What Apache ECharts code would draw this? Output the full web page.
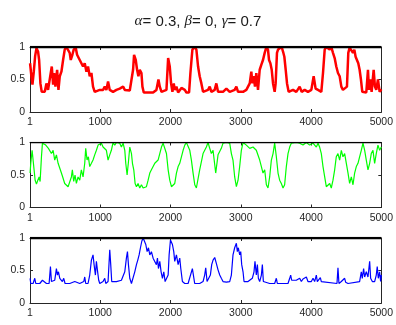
<!DOCTYPE html>
<html><head><meta charset="utf-8">
<script src="https://cdn.jsdelivr.net/npm/echarts@6/dist/echarts.min.js"></script>
<style>html,body{margin:0;padding:0;background:#fff}#c{width:396px;height:325px}</style>
</head><body><div id="c"></div>
<script>
const xTickLabels = ['1','1000','2000','3000','4000','5000'];
const yTickLabels = ['0','0.5','1'];
const titleText = '{g|α}= 0.3, {g|β}= 0, {g|γ}= 0.7';

const redT = [1,20,35,54,73,92,115,130,148,167,210,234,257,281,310,329,343,362,386,405,424,447,471,494,518,542,565,580,603,622,651,670,689,708,731,755,779,803,826,850,874,897,921,945,993,1016,1040,1064,1087,1111,1135,1182,1230,1277,1325,1349,1372,1420,1444,1467,1481,1505,1524,1543,1562,1586,1600,1619,1657,1752,1799,1828,1847,1871,1894,1942,1966,1989,2008,2027,2046,2060,2084,2108,2155,2179,2203,2226,2264,2283,2311,2344,2368,2392,2415,2439,2463,2486,2534,2558,2581,2629,2652,2676,2747,2795,2842,2913,2937,2961,3032,3079,3127,3150,3165,3183,3202,3221,3245,3269,3293,3316,3340,3364,3387,3402,3421,3440,3459,3482,3496,3515,3530,3553,3582,3601,3620,3639,3658,3681,3743,3790,3838,3852,3866,3909,3933,3956,4004,4037,4065,4099,4146,4170,4194,4217,4265,4288,4312,4336,4359,4383,4407,4431,4454,4478,4511,4530,4549,4573,4597,4616,4634,4653,4672,4691,4710,4729,4748,4786,4810,4824,4843,4862,4891,4909,4928,4952,4976,5000];
const redV = [0.75,0.55,0.42,0.62,0.86,0.98,0.93,0.80,0.44,0.31,0.31,0.44,0.34,0.31,0.70,0.42,0.60,0.39,0.65,0.34,0.55,0.62,0.80,0.96,1.0,0.99,0.91,0.80,0.88,0.96,0.99,0.88,0.91,0.80,0.83,0.70,0.75,0.62,0.70,0.55,0.60,0.39,0.31,0.30,0.34,0.36,0.34,0.39,0.34,0.47,0.34,0.31,0.34,0.36,0.39,0.34,0.35,0.33,0.31,0.65,0.88,0.80,0.65,0.55,0.65,0.60,0.39,0.30,0.30,0.30,0.34,0.50,0.39,0.31,0.30,0.34,0.83,0.70,0.44,0.31,0.44,0.34,0.39,0.30,0.37,0.39,0.34,0.30,0.30,0.60,0.96,1.0,0.96,0.70,0.55,0.44,0.31,0.30,0.34,0.39,0.31,0.34,0.44,0.31,0.31,0.36,0.31,0.34,0.39,0.31,0.31,0.34,0.44,0.62,0.44,0.55,0.39,0.60,0.34,0.65,0.73,0.80,0.91,1.0,0.96,0.80,0.75,0.65,0.44,0.31,0.44,0.91,0.96,0.99,1.0,0.93,0.85,0.65,0.44,0.31,0.34,0.31,0.39,0.42,0.31,0.34,0.36,0.31,0.34,0.55,0.36,0.34,0.31,0.60,0.96,1.0,0.96,1.0,0.91,0.83,0.70,0.60,0.55,0.39,0.34,0.34,0.39,0.91,0.99,1.0,0.91,0.96,0.85,0.80,0.75,0.65,0.50,0.31,0.30,0.30,0.65,0.34,0.50,0.31,0.65,0.39,0.34,0.50,0.31,0.35];

const greenT = [1,11,30,44,58,73,92,111,130,144,163,177,201,224,243,262,281,305,329,352,376,400,423,447,471,494,518,542,565,589,603,622,641,660,684,708,731,755,779,793,812,831,850,874,897,921,945,969,993,1016,1040,1064,1087,1111,1135,1158,1182,1206,1230,1253,1277,1301,1325,1349,1363,1382,1401,1420,1444,1458,1477,1496,1515,1538,1562,1586,1610,1657,1681,1705,1728,1752,1776,1799,1823,1847,1871,1894,1918,1942,1966,1989,2013,2037,2060,2084,2108,2131,2155,2179,2203,2226,2250,2274,2297,2321,2345,2368,2392,2415,2463,2510,2534,2558,2581,2605,2643,2676,2723,2747,2795,2842,2866,2889,2913,2937,2961,2984,3008,3032,3079,3103,3127,3174,3221,3269,3293,3316,3340,3364,3387,3411,3435,3459,3482,3506,3530,3553,3577,3601,3624,3648,3672,3696,3719,3743,3790,3838,3885,3933,3980,4028,4075,4099,4122,4146,4170,4194,4217,4241,4265,4288,4312,4336,4359,4383,4407,4431,4454,4478,4502,4526,4549,4573,4597,4620,4644,4668,4691,4715,4739,4763,4786,4810,4834,4857,4881,4905,4928,4952,4976,5000];
const greenV = [0.53,0.68,0.88,0.73,0.58,0.42,0.36,0.42,0.47,0.40,0.78,0.99,1.0,0.96,0.99,0.91,0.93,0.83,0.88,0.73,0.81,0.68,0.70,0.53,0.45,0.37,0.40,0.32,0.30,0.47,0.58,0.40,0.50,0.37,0.47,0.42,0.58,0.47,0.68,0.91,0.73,0.78,0.63,0.68,0.73,0.81,0.88,0.96,0.99,0.99,0.93,0.96,0.88,0.73,0.81,0.88,1.0,0.96,1.0,0.97,0.99,0.93,0.99,0.88,0.68,0.50,0.70,0.93,0.83,0.68,0.58,0.37,0.32,0.37,0.30,0.35,0.30,0.32,0.42,0.53,0.58,0.63,0.68,0.70,0.73,0.83,0.93,0.99,0.96,0.83,0.58,0.42,0.32,0.30,0.37,0.53,0.63,0.68,0.78,0.88,0.96,1.0,0.99,0.88,0.73,0.53,0.35,0.30,0.32,0.58,0.83,0.93,1.0,0.91,0.83,0.88,0.53,0.81,0.91,0.99,1.0,0.99,0.83,0.73,0.47,0.32,0.42,0.63,0.88,1.0,0.96,0.99,0.91,0.93,0.88,0.73,0.63,0.53,0.58,0.35,0.30,0.47,0.73,0.83,0.99,0.78,0.53,0.42,0.37,0.30,0.35,0.63,0.83,0.93,0.99,0.96,1.0,0.99,0.96,1.0,0.96,0.99,0.93,0.99,0.93,0.83,0.63,0.47,0.32,0.30,0.37,0.30,0.42,0.58,0.78,0.83,0.73,0.88,0.78,0.83,0.68,0.53,0.37,0.47,0.35,0.53,0.63,0.68,0.78,0.88,0.99,0.88,0.73,0.58,0.68,0.83,0.88,0.68,0.83,0.96,0.88,0.93];

const blueT = [1,11,44,68,82,139,163,177,196,234,272,291,305,329,352,376,390,405,424,447,461,480,499,566,637,651,708,765,779,793,826,850,874,897,912,931,945,959,978,993,1040,1064,1078,1111,1135,1149,1163,1182,1230,1253,1301,1325,1349,1372,1387,1401,1420,1444,1467,1491,1515,1534,1553,1572,1591,1610,1629,1648,1667,1686,1705,1728,1752,1776,1799,1814,1828,1847,1866,1885,1904,1923,1942,1966,1980,1999,2013,2027,2046,2060,2084,2108,2131,2146,2169,2203,2250,2274,2311,2344,2415,2463,2486,2501,2520,2548,2567,2586,2605,2629,2652,2676,2700,2723,2747,2795,2842,2866,2889,2913,2937,2951,2965,2984,2999,3013,3032,3046,3070,3103,3127,3164,3188,3202,3221,3236,3250,3269,3293,3307,3321,3340,3411,3482,3506,3520,3672,3696,3710,3724,3743,3790,3814,3838,3862,3885,3909,3933,3956,3980,4004,4028,4051,4075,4089,4132,4146,4170,4369,4383,4397,4431,4478,4492,4526,4691,4715,4729,4748,4763,4786,4810,4834,4848,4872,4905,4928,4942,4957,4976,4990,5000];
const blueV = [0.38,0.30,0.30,0.38,0.30,0.30,0.33,0.35,0.33,0.30,0.30,0.56,0.33,0.30,0.35,0.53,0.43,0.48,0.38,0.40,0.33,0.38,0.30,0.30,0.33,0.30,0.30,0.33,0.40,0.30,0.30,0.43,0.66,0.74,0.59,0.43,0.64,0.51,0.35,0.30,0.33,0.38,0.30,0.33,0.82,0.59,0.33,0.30,0.33,0.30,0.35,0.33,0.48,0.69,0.79,0.59,0.38,0.30,0.33,0.48,0.59,0.66,0.74,0.85,0.95,1.0,0.99,0.90,0.79,0.85,0.74,0.79,0.69,0.72,0.59,0.69,0.53,0.64,0.48,0.38,0.48,0.33,0.30,0.43,0.74,0.97,1.0,0.90,0.79,0.64,0.74,0.59,0.69,0.53,0.33,0.30,0.30,0.33,0.53,0.30,0.30,0.33,0.43,0.54,0.33,0.33,0.43,0.59,0.66,0.70,0.61,0.51,0.43,0.38,0.33,0.32,0.33,0.43,0.74,0.85,0.92,0.79,0.85,0.74,0.79,0.59,0.48,0.33,0.30,0.33,0.30,0.38,0.48,0.64,0.43,0.59,0.38,0.33,0.43,0.59,0.33,0.30,0.30,0.30,0.38,0.30,0.30,0.38,0.43,0.35,0.33,0.35,0.33,0.38,0.33,0.37,0.34,0.40,0.33,0.35,0.33,0.38,0.33,0.43,0.33,0.39,0.33,0.30,0.30,0.54,0.30,0.33,0.38,0.32,0.30,0.33,0.48,0.38,0.53,0.40,0.48,0.40,0.64,0.38,0.33,0.33,0.43,0.56,0.38,0.48,0.33,0.43];

function pairs(t, v){ return t.map((x,i)=>[x, v[i]]); }

const panels = [
  {t: redT, v: redV, color: '#ff0000', w: 2.5, top: 47, refW: 2.5},
  {t: greenT, v: greenV, color: '#00ff00', w: 1.2, top: 142.5, refW: 1.5},
  {t: blueT, v: blueV, color: '#0000ff', w: 1.2, top: 238, refW: 2.5}
];
const H = 65;
const axisColor = '#262626';
const font = "'Liberation Sans', Arial, Helvetica, sans-serif";

const grid = [], xAxis = [], yAxis = [], series = [];
panels.forEach((p, i) => {
  grid.push({left: 30, right: 14, top: p.top, height: H});
  const common = {
    gridIndex: i, type: 'value',
    axisLine: {show: true, onZero: false, lineStyle: {color: axisColor, width: 1}},
    axisTick: {show: true, inside: true, length: 3, lineStyle: {color: axisColor, width: 1}},
    splitLine: {show: false}
  };
  xAxis.push(Object.assign({}, common, {
    position: 'bottom', min: 0, max: 5000, interval: 1000,
    axisLabel: {show: true, color: axisColor, fontSize: 10.5, fontFamily: font, margin: 5,
      formatter: v => xTickLabels[Math.round(v / 1000)]}
  }));
  xAxis.push(Object.assign({}, common, {
    position: 'top', min: 0, max: 5000, interval: 1000, axisLabel: {show: false}
  }));
  yAxis.push(Object.assign({}, common, {
    position: 'left', min: 0, max: 1, interval: 0.5,
    axisLabel: {show: true, color: axisColor, fontSize: 10.5, fontFamily: font, margin: 5,
      formatter: v => yTickLabels[Math.round(v * 2)]}
  }));
  yAxis.push(Object.assign({}, common, {
    position: 'right', min: 0, max: 1, interval: 0.5, axisLabel: {show: false}
  }));
  series.push({
    type: 'line', xAxisIndex: 2 * i, yAxisIndex: 2 * i, data: pairs(p.t, p.v),
    showSymbol: false, symbol: 'none', lineStyle: {color: p.color, width: p.w}, z: 2
  });
  series.push({
    type: 'line', xAxisIndex: 2 * i, yAxisIndex: 2 * i, data: [[0, 1], [5000, 1]],
    showSymbol: false, symbol: 'none', lineStyle: {color: '#000', width: p.refW}, z: 3
  });
});

const chart = echarts.init(document.getElementById('c'), null, {renderer: 'canvas'});
chart.setOption({
  animation: false,
  backgroundColor: '#fff',
  title: {
    text: titleText, left: 'center', top: 9,
    textStyle: {
      fontSize: 15, fontWeight: 'normal', color: '#1a1a1a', fontFamily: font,
      rich: {g: {fontSize: 15, fontStyle: 'italic', fontFamily: "'Liberation Serif', 'DejaVu Serif', serif", color: '#1a1a1a'}}
    }
  },
  grid, xAxis, yAxis, series
});
</script>
</body></html>
